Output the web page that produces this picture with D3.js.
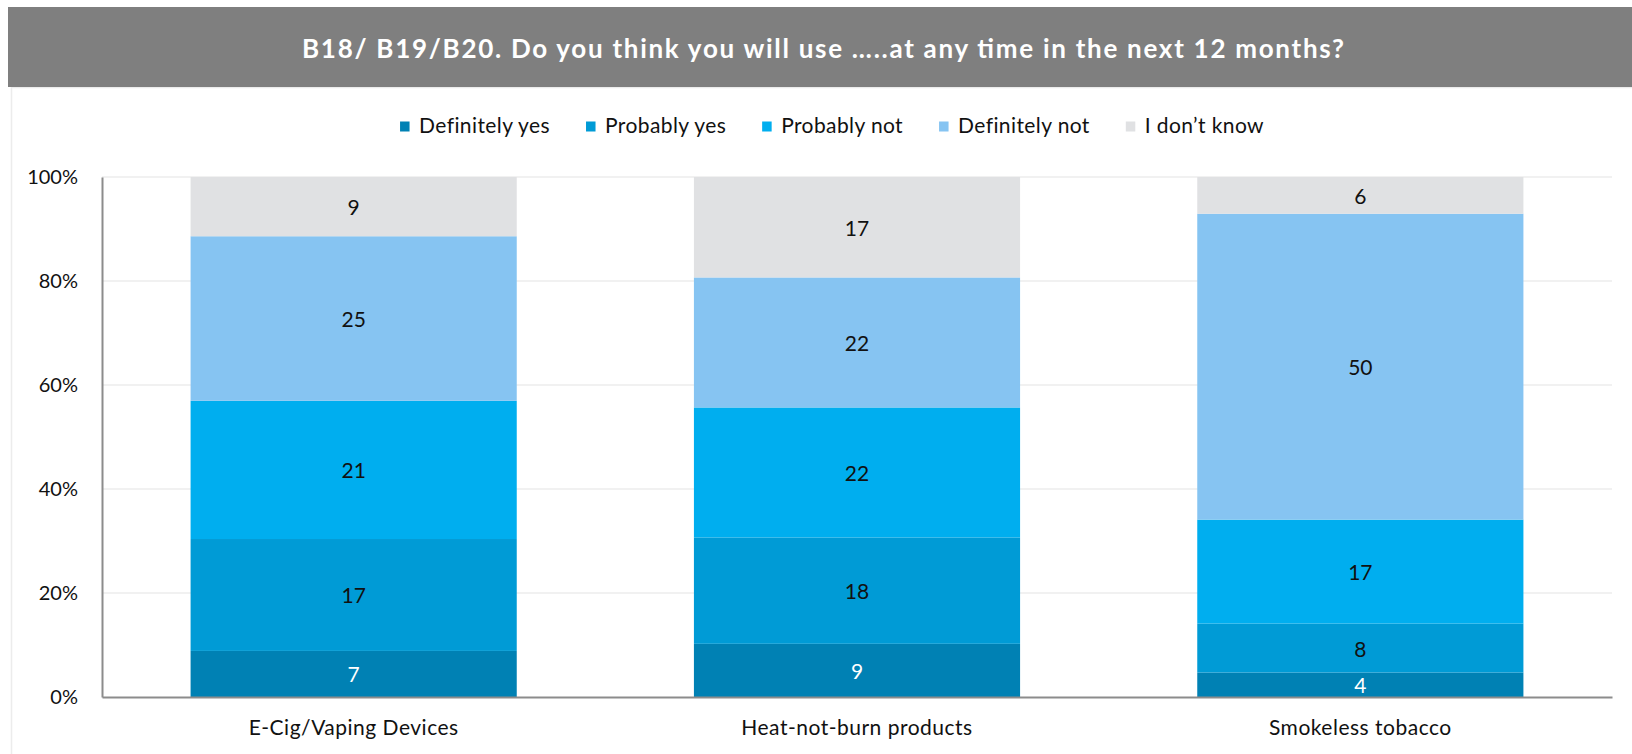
<!DOCTYPE html>
<html><head><meta charset="utf-8">
<script src="https://cdn.jsdelivr.net/npm/d3@7"></script>
<style>
body{margin:0;background:#fff}
svg{display:block}
text{font-family:Lato, "Open Sans", sans-serif}
</style>
</head><body>
<svg id="chart" width="1632" height="754"></svg>
<script>
const title = "B18/ B19/B20. Do you think you will use …..at any time in the next 12 months?";
const categories = ["E-Cig/Vaping Devices", "Heat-not-burn products", "Smokeless tobacco"];
const seriesNames = ["Definitely yes", "Probably yes", "Probably not", "Definitely not", "I don’t know"];
const definitelyYes = [7, 9, 4];
const probablyYes = [17, 18, 8];
const probablyNot = [21, 22, 17];
const definitelyNot = [25, 22, 50];
const dontKnow = [9, 17, 6];
const yTicks = [0, 0.2, 0.4, 0.6, 0.8, 1];

const colors = ["#0081b4", "#009bd6", "#00aeef", "#86c4f2", "#e0e1e3"];
const labelColors = ["#ffffff", "#111111", "#111111", "#111111", "#111111"];

const seriesValues = [definitelyYes, probablyYes, probablyNot, definitelyNot, dontKnow];
const rows = categories.map((c, i) => {
  const r = {cat: c};
  seriesNames.forEach((s, j) => r[s] = seriesValues[j][i]);
  return r;
});

const svg = d3.select("#chart");
const W = 1632, H = 754;
const plot = {left: 102, right: 1612, top: 177, bottom: 697};

// chart frame & title bar
svg.append("rect").attr("x", 11.5).attr("y", 87.5).attr("width", W).attr("height", H)
  .attr("fill", "#fff").attr("stroke", "#ececec").attr("stroke-width", 1.5);
svg.append("rect").attr("x", 8).attr("y", 7).attr("width", W).attr("height", 80).attr("fill", "#7f7f7f");
svg.append("text").attr("x", 823).attr("y", 48).attr("text-anchor", "middle")
  .attr("dominant-baseline", "central").attr("fill", "#fff")
  .attr("font-weight", "bold").attr("font-size", 26)
  .attr("textLength", 1042).attr("lengthAdjust", "spacing").text(title);

const x = d3.scaleBand().domain(categories).range([plot.left, plot.right])
  .paddingInner(0.352).paddingOuter(0.176);
const y = d3.scaleLinear().domain([0, 1]).range([plot.bottom, plot.top]);

// gridlines
svg.append("g").selectAll("line").data(yTicks.filter(d => d > 0)).join("line")
  .attr("x1", plot.left).attr("x2", plot.right)
  .attr("y1", d => y(d)).attr("y2", d => y(d))
  .attr("stroke", "#ededed").attr("stroke-width", 1.5);

const stack = d3.stack().keys(seriesNames).offset(d3.stackOffsetExpand);
const stacked = stack(rows);

const layers = svg.append("g").selectAll("g").data(stacked).join("g")
  .attr("fill", (d, i) => colors[i]);
layers.selectAll("rect").data(d => d).join("rect")
  .attr("x", d => x(d.data.cat)).attr("width", x.bandwidth())
  .attr("y", d => y(d[1])).attr("height", d => y(d[0]) - y(d[1]));

// data labels
const lbl = svg.append("g").selectAll("g").data(stacked).join("g")
  .attr("fill", (d, i) => labelColors[i]);
lbl.selectAll("text").data(d => d.map(v => ({v, key: d.key}))).join("text")
  .attr("x", d => x(d.v.data.cat) + x.bandwidth() / 2)
  .attr("y", d => (y(d.v[0]) + y(d.v[1])) / 2)
  .attr("text-anchor", "middle").attr("dominant-baseline", "central")
  .attr("font-size", 21)
  .text(d => d.v.data[d.key]);

// axes
const yAxis = svg.append("g").attr("transform", `translate(${plot.left},0)`)
  .call(d3.axisLeft(y).tickValues(yTicks).tickFormat(d3.format(".0%")).tickSize(0).tickPadding(24));
yAxis.select(".domain").attr("stroke", "#8c8c8c").attr("stroke-width", 2);
yAxis.selectAll("text").attr("font-size", 20).attr("fill", "#111").attr("font-family", "Lato, sans-serif");

const xAxis = svg.append("g").attr("transform", `translate(0,${plot.bottom})`)
  .call(d3.axisBottom(x).tickSize(0).tickPadding(23));
xAxis.select(".domain").attr("stroke", "#8c8c8c").attr("stroke-width", 2);
xAxis.selectAll("text").attr("font-size", 21).attr("letter-spacing", 0.5)
  .attr("fill", "#111").attr("font-family", "Lato, sans-serif");

// legend
const legend = svg.append("g");
const items = legend.selectAll("g").data(seriesNames).join("g");
items.append("rect").attr("width", 9.5).attr("height", 10).attr("y", -3)
  .attr("fill", (d, i) => colors[i]);
items.append("text").attr("x", 19).attr("y", 0).attr("dominant-baseline", "central")
  .attr("font-size", 21).attr("letter-spacing", 0.4).attr("fill", "#111").text(d => d);
let cx = 0;
items.each(function () {
  const g = d3.select(this);
  g.attr("transform", `translate(${cx},0)`);
  const w = g.select("text").node().getComputedTextLength();
  cx += 19 + w + 36;
});
const total = cx - 36;
legend.attr("transform", `translate(${832 - total / 2},124.5)`);
</script>
</body></html>
